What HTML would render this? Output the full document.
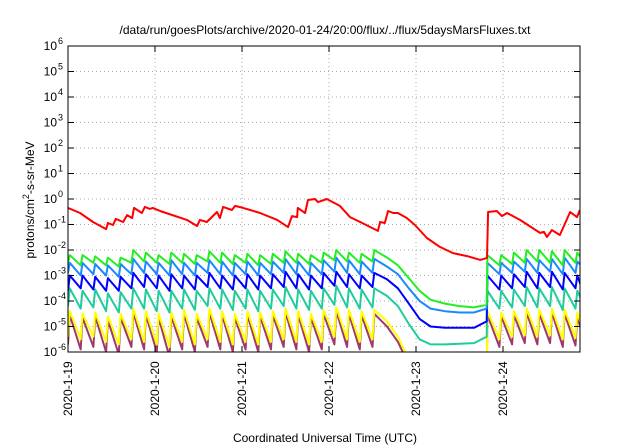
<!DOCTYPE html>
<html><head><meta charset="utf-8"><style>
body{margin:0;background:#fff;}
svg{display:block;font-family:"Liberation Sans",sans-serif;}
</style></head><body>
<svg id="c" width="640" height="448">
<defs><clipPath id="clip"><rect x="68" y="46" width="512" height="306"/></clipPath></defs>
<text x="325" y="34" font-size="12" text-anchor="middle">/data/run/goesPlots/archive/2020-01-24/20:00/flux/../flux/5daysMarsFluxes.txt</text>
<text x="325" y="442" font-size="12" text-anchor="middle">Coordinated Universal Time (UTC)</text>
<text transform="translate(34,200) rotate(-90)" font-size="12" text-anchor="middle">protons/cm<tspan dy="-5" font-size="9">2</tspan><tspan dy="5">-s-sr-MeV</tspan></text>
<g id="grid"></g><g id="series" clip-path="url(#clip)"></g><g id="axes"></g>
</svg>
<script>
const dayLabels=["2020-1-19","2020-1-20","2020-1-21","2020-1-22","2020-1-23","2020-1-24"];
const yExps=[-6,-5,-4,-3,-2,-1,0,1,2,3,4,5,6];
const redT=[0,3.3,6.9,10.5,11,12.4,13.2,15.2,16.3,17.7,18.2,20.4,21.2,22.6,23.4,25.4,32.8,35.6,36.4,38.3,41.1,41.9,42.8,45.2,46.1,48.3,53,57.7,60.7,61.8,63.2,63.4,65.4,66.2,68.1,69,71.4,75,77.8,80.6,85.5,86.1,87.4,88.3,89.7,91,93.5,95.7,99,102.6,106.2,110.1,113.7,115.6,115.9,118.3,119.7,121.1,124.7,130.2,131.3,132.1,133.5,135.7,138.5,140.4,141.2];
const redV=[-0.35,-0.55,-0.9,-1.18,-0.94,-1.02,-0.78,-0.9,-0.63,-0.75,-0.35,-0.55,-0.31,-0.39,-0.35,-0.47,-0.82,-1.06,-0.82,-0.9,-0.51,-0.75,-0.31,-0.43,-0.27,-0.35,-0.55,-0.82,-1.1,-0.67,-0.71,-0.35,-0.55,-0.04,0.0,-0.12,0.0,-0.27,-0.71,-0.9,-1.25,-0.9,-0.94,-0.47,-0.55,-0.55,-0.75,-1.02,-1.53,-1.88,-2.12,-2.24,-2.39,-2.31,-0.51,-0.47,-0.67,-0.55,-0.82,-1.33,-1.29,-1.49,-1.22,-1.41,-0.51,-0.71,-0.43];
const T=[0,0.5,3.5,4,7,7.5,10.5,11,14,14.5,17.5,18,21,21.5,24.5,25,28,28.5,31.5,32,35,35.5,38.5,39,42,42.5,45.5,46,49,49.5,52.5,53,56,56.5,59.5,60,63,63.5,66.5,67,70,70.5,73.5,74,77,77.5,80.5,81,84,84.5,
88,91,94,97,100,104,108,112,115.5,
115.7,119,119.5,122.5,123,126,126.5,129.5,130,133,133.5,136.5,137,140,140.5,141.5];
const green=[-2.5,-2.2,-2.6,-2.2,-2.5,-2.25,-2.6,-2.3,-2.65,-2.3,-2.5,-2.0,-2.45,-2.1,-2.5,-2.2,-2.55,-2.1,-2.5,-2.15,-2.55,-2.2,-2.45,-2.05,-2.5,-2.1,-2.55,-2.2,-2.5,-2.15,-2.6,-2.2,-2.55,-2.15,-2.5,-2.05,-2.5,-2.15,-2.55,-2.2,-2.5,-2.1,-2.4,-2.0,-2.45,-2.1,-2.5,-2.15,-2.45,-2.0,
-2.3,-2.6,-3.1,-3.6,-3.95,-4.1,-4.2,-4.25,-4.15,
-2.2,-2.6,-2.2,-2.55,-2.1,-2.5,-2.0,-2.45,-2.0,-2.5,-2.05,-2.6,-2.0,-2.5,-2.1,-2.3];
const lightBlue=[-2.9,-2.5,-3.0,-2.5,-2.95,-2.55,-3.0,-2.6,-3.05,-2.55,-2.95,-2.35,-2.9,-2.45,-2.95,-2.5,-3.0,-2.4,-2.95,-2.5,-3.0,-2.5,-2.9,-2.4,-2.95,-2.45,-3.0,-2.5,-2.95,-2.45,-3.0,-2.5,-2.95,-2.45,-2.9,-2.35,-2.95,-2.45,-3.0,-2.5,-2.95,-2.4,-2.85,-2.3,-2.9,-2.4,-2.95,-2.45,-2.9,-2.35,
-2.65,-2.95,-3.5,-4.0,-4.3,-4.4,-4.45,-4.45,-4.3,
-2.5,-2.95,-2.5,-2.9,-2.45,-2.85,-2.35,-2.9,-2.4,-2.85,-2.35,-2.95,-2.3,-2.9,-2.45,-2.6];
const blue=[-3.6,-3.0,-3.5,-3.0,-3.55,-3.05,-3.6,-3.1,-3.6,-3.05,-3.5,-2.9,-3.45,-2.95,-3.5,-3.0,-3.6,-2.95,-3.5,-3.0,-3.55,-3.0,-3.45,-2.9,-3.5,-3.0,-3.55,-3.0,-3.5,-2.95,-3.55,-3.0,-3.5,-2.95,-3.45,-2.85,-3.5,-2.95,-3.55,-3.0,-3.5,-2.9,-3.4,-2.85,-3.45,-2.95,-3.5,-3.0,-3.45,-2.9,
-3.15,-3.5,-4.1,-4.7,-5.0,-5.05,-5.05,-5.05,-4.8,
-3.0,-3.55,-3.0,-3.5,-2.95,-3.45,-2.85,-3.5,-2.9,-3.45,-2.85,-3.55,-2.9,-3.5,-3.0,-3.4];
const teal=[-4.2,-3.5,-4.3,-3.6,-4.25,-3.55,-4.4,-3.7,-4.45,-3.65,-4.3,-3.5,-4.3,-3.55,-4.4,-3.6,-4.45,-3.6,-4.3,-3.55,-4.35,-3.6,-4.2,-3.5,-4.3,-3.55,-4.35,-3.6,-4.3,-3.55,-4.4,-3.6,-4.3,-3.55,-4.2,-3.45,-4.3,-3.55,-4.35,-3.6,-4.3,-3.5,-4.15,-3.4,-4.25,-3.5,-4.3,-3.55,-4.25,-3.5,
-3.8,-4.2,-4.9,-5.5,-5.7,-5.7,-5.68,-5.65,-5.4,
-3.6,-4.3,-3.6,-4.25,-3.55,-4.2,-3.45,-4.25,-3.5,-4.2,-3.45,-4.35,-3.5,-4.3,-3.6,-3.9];
const yellow=[-5.4,-4.4,-5.5,-4.5,-5.4,-4.45,-5.6,-4.6,-5.7,-4.5,-5.5,-4.3,-5.6,-4.4,-5.7,-4.5,-5.8,-4.45,-5.6,-4.35,-5.7,-4.5,-5.5,-4.3,-5.6,-4.4,-5.7,-4.5,-5.6,-4.4,-5.7,-4.45,-5.6,-4.4,-5.5,-4.3,-5.6,-4.4,-5.7,-4.5,-5.6,-4.35,-5.4,-4.25,-5.5,-4.35,-5.6,-4.4,-5.5,-4.35,
-4.8,-5.4,-6.3,-7,-7,-7,-7,-7,-7,
-4.4,-5.5,-4.45,-5.4,-4.4,-5.35,-4.3,-5.4,-4.35,-5.35,-4.3,-5.5,-4.35,-5.45,-4.45,-4.9];
const purple=[-5.7,-4.55,-5.9,-4.65,-5.8,-4.6,-6.0,-4.75,-6.1,-4.65,-5.8,-4.45,-5.9,-4.55,-6.0,-4.65,-6.2,-4.6,-5.9,-4.5,-6.0,-4.65,-5.8,-4.45,-5.9,-4.55,-6.0,-4.65,-5.9,-4.55,-6.0,-4.6,-5.9,-4.55,-5.8,-4.45,-5.9,-4.55,-6.0,-4.65,-5.9,-4.5,-5.7,-4.4,-5.8,-4.5,-5.9,-4.55,-5.8,-4.5,
-5.0,-5.6,-6.5,-7,-7,-7,-7,-7,-7,
-4.55,-5.8,-4.6,-5.7,-4.55,-5.65,-4.45,-5.7,-4.5,-5.65,-4.45,-5.8,-4.5,-5.75,-4.6,-5.1];

const X0=68,X1=580,Y0=352,Y1=46;
const xs=h=>X0+h*(87/24);
const ys=l=>Y0-(l+6)*(Y0-Y1)/12;
const NS="http://www.w3.org/2000/svg";
function mk(tag,attrs,parent){const e=document.createElementNS(NS,tag);for(const k in attrs)e.setAttribute(k,attrs[k]);parent.appendChild(e);return e;}
const grid=document.getElementById('grid'),axes=document.getElementById('axes'),ser=document.getElementById('series');
yExps.forEach(k=>{
  const y=ys(k);
  if(k>-6&&k<6){const g=mk('line',{x1:X0,x2:X1,y1:y,y2:y,stroke:'#aaa','stroke-width':1,'stroke-dasharray':'1,3'},grid);
  
  }
  const t1=mk('line',{x1:X0,x2:X0+6,y1:y,y2:y,stroke:'#000'},axes);
  
  
  const t2=mk('line',{x1:X1-6,x2:X1,y1:y,y2:y,stroke:'#000'},axes);
  
  
  const tx=mk('text',{x:57,y:y+4,'font-size':12,'text-anchor':'end'},axes);
  
  
  tx.textContent='10';
  const sp=mk('tspan',{x:58,y:y-2,'font-size':9},axes);
  
  
  sp.textContent=String(k);
  tx.appendChild(sp);
  sp.setAttribute('text-anchor','start');
});
dayLabels.forEach((d,i)=>{
  const x=xs(i*24);
  if(i>0){const g=mk('line',{x1:x,x2:x,y1:Y1,y2:Y0,stroke:'#aaa','stroke-width':1,'stroke-dasharray':'1,3'},grid);
  
  }
  const t1=mk('line',{x1:x,x2:x,y1:Y0,y2:Y0-6,stroke:'#000'},axes);
  
  
  const t2=mk('line',{x1:x,x2:x,y1:Y1,y2:Y1+6,stroke:'#000'},axes);
  
  
  const tx=mk('text',{transform:`translate(${x+4},${416}) rotate(-90)`,'font-size':12,'text-anchor':'start'},axes);
  
  
  tx.textContent=d;
});
const box=mk('rect',{x:X0,y:Y1,width:X1-X0,height:Y0-Y1,fill:'none',stroke:'#000','stroke-width':1},axes);


function line(ts,vs,color,name){
  const p=mk('polyline',{points:ts.map((t,i)=>xs(t).toFixed(1)+','+ys(vs[i]).toFixed(1)).join(' '),fill:'none',stroke:color,'stroke-width':2,'stroke-linejoin':'round'},ser);
  
  
}
line(T,purple,'#a0386a','series-purple');
line(T,yellow,'#ffff00','series-yellow');
line(T,teal,'#20cc9c','series-teal');
line(T,blue,'#0000ff','series-blue');
line(T,lightBlue,'#1a88ff','series-lightblue');
line(T,green,'#22ee22','series-green');
line(redT,redV,'#ff0000','series-red');
</script>
</body></html>
